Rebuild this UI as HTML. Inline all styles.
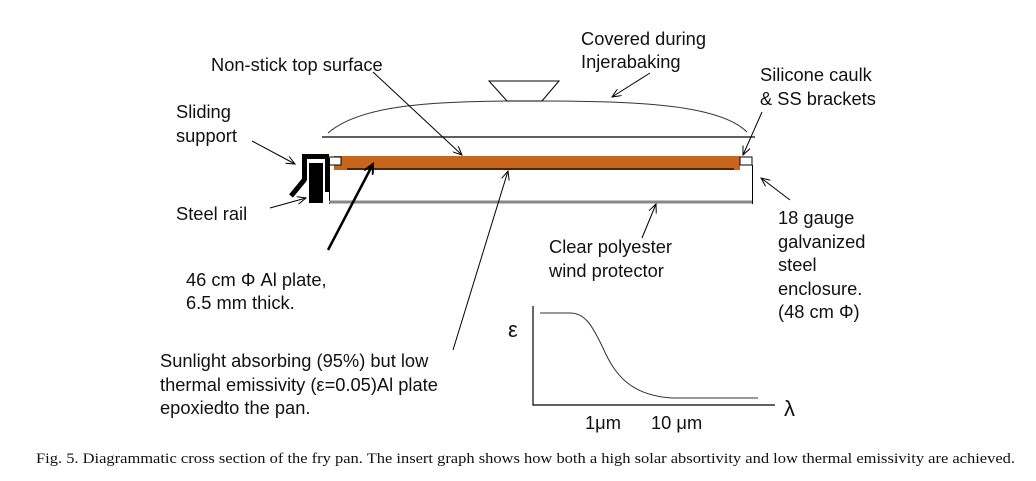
<!DOCTYPE html>
<html><head><style>
body{margin:0;background:#fff;}
svg{display:block;}
text{font-family:"Liberation Sans",sans-serif;font-size:18.3px;fill:#111;}
.cap{font-family:"Liberation Serif",serif;font-size:15px;}
</style></head><body>
<svg width="1036" height="481" viewBox="0 0 1036 481" xmlns="http://www.w3.org/2000/svg">
<defs>
<marker id="a" markerWidth="10" markerHeight="8" refX="9" refY="4" orient="auto" markerUnits="userSpaceOnUse"><path d="M0,0 L9,4 L0,8" fill="none" stroke="#000" stroke-width="1"/></marker>
<marker id="b" markerWidth="12" markerHeight="10" refX="10" refY="5" orient="auto" markerUnits="userSpaceOnUse"><path d="M0,0 L10,5 L0,10" fill="none" stroke="#000" stroke-width="2"/></marker>
</defs>
<path d="M328,133 C360,105 430,102 507,101 L542,101 C640,101 720,105 747,132" fill="none" stroke="#333" stroke-width="1"/>
<path d="M489,81 L559,81 L542,101 L507,101 Z" fill="none" stroke="#000" stroke-width="1"/>
<line x1="322" y1="137" x2="755" y2="137" stroke="#000" stroke-width="1.2"/>
<rect x="334" y="156" width="406" height="14" fill="#c8651d"/>
<line x1="347" y1="169" x2="734" y2="169" stroke="#000" stroke-width="1.2"/>
<rect x="329" y="157" width="12" height="8" fill="#fff" stroke="#000" stroke-width="1"/>
<rect x="740" y="157" width="12" height="8" fill="#fff" stroke="#000" stroke-width="1"/>
<line x1="329.5" y1="158" x2="329.5" y2="204" stroke="#000" stroke-width="1"/>
<line x1="752.5" y1="165" x2="752.5" y2="204" stroke="#000" stroke-width="1"/>
<line x1="329" y1="202" x2="752" y2="202" stroke="#888" stroke-width="3"/>
<rect x="302" y="154" width="27" height="5" fill="#000"/>
<rect x="302" y="154" width="5" height="26" fill="#000"/>
<line x1="305" y1="179" x2="291" y2="196" stroke="#000" stroke-width="5"/>
<rect x="309" y="163" width="14" height="40" fill="#000"/>
<rect x="325" y="158" width="5" height="34" fill="#000"/>
<g stroke="#000" stroke-width="1" marker-end="url(#a)">
<line x1="373" y1="72" x2="462" y2="155"/>
<line x1="650" y1="73" x2="612" y2="97"/>
<line x1="762" y1="112" x2="743" y2="155"/>
<line x1="252" y1="141" x2="295" y2="164"/>
<line x1="270" y1="208" x2="306" y2="198"/>
<line x1="453" y1="350" x2="508" y2="171"/>
<line x1="642" y1="238" x2="656" y2="204"/>
<line x1="790" y1="200" x2="761" y2="178"/>
</g>
<line x1="328" y1="250" x2="373" y2="164" stroke="#000" stroke-width="2.5" marker-end="url(#b)"/>
<text x="211" y="71">Non-stick top surface</text>
<text x="581" y="45">Covered during</text>
<text x="581" y="68">Injerabaking</text>
<text x="760" y="81">Silicone caulk</text>
<text x="760" y="105">&amp; SS brackets</text>
<text x="176" y="118">Sliding</text>
<text x="176" y="142">support</text>
<text x="176" y="220">Steel rail</text>
<text x="549" y="253">Clear polyester</text>
<text x="549" y="277">wind protector</text>
<text x="778" y="224">18 gauge</text>
<text x="778" y="248">galvanized</text>
<text x="778" y="271">steel</text>
<text x="778" y="295">enclosure.</text>
<text x="778" y="318">(48 cm Φ)</text>
<text x="186" y="286">46 cm Φ Al plate,</text>
<text x="186" y="309">6.5 mm thick.</text>
<text x="160" y="367">Sunlight absorbing (95%) but low</text>
<text x="160" y="391">thermal emissivity (ε=0.05)Al plate</text>
<text x="160" y="414">epoxiedto the pan.</text>
<polyline points="533,306 533,405 775,405" fill="none" stroke="#000" stroke-width="1.2"/>
<path d="M540,313 L570,313 C585,313 592,325 603,348 C615,375 630,395 672,398 L758,398" fill="none" stroke="#333" stroke-width="1"/>
<text x="508" y="337" style="font-size:22px">ε</text>
<text x="784" y="416" style="font-size:22px">λ</text>
<text x="585" y="429">1μm</text>
<text x="651" y="429">10 μm</text>
<text class="cap" x="36" y="463" textLength="979" lengthAdjust="spacingAndGlyphs">Fig. 5.  Diagrammatic cross section of the fry pan. The insert graph shows how both a high solar absortivity and low thermal emissivity are achieved.</text>
</svg>
</body></html>
